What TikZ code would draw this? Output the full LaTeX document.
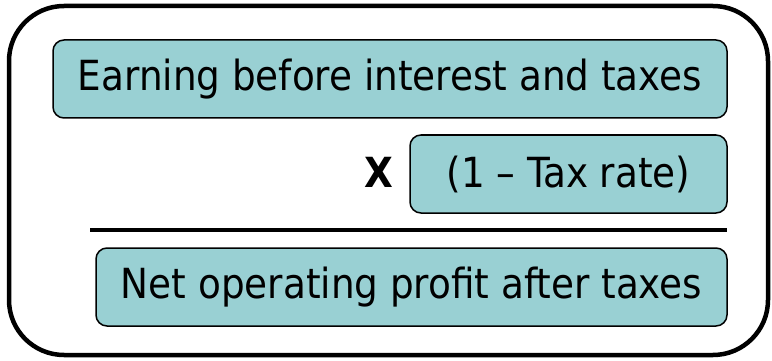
\documentclass[tikz,border=0pt]{standalone}
\usepackage{fontspec}
\setmainfont{DejaVu Sans Condensed}
\definecolor{boxfill}{RGB}{153,208,211}

\begin{document}
\begin{tikzpicture}[x=1pt,y=-1pt]
			\tikzstyle{term} = [draw,fill=boxfill,line width=1.5pt,rounded corners=11pt,minimum height=78pt,inner sep=0pt,font=\fontsize{41.5}{48}\selectfont]
			\useasboundingbox (0,0) rectangle (772,361);
			
			\draw[line width=4.5pt,rounded corners=55pt] (9,6) rectangle (768,355);
			
			\node[term,minimum width=674pt] (ebit) at (390,79) {Earning before interest and taxes};
			\node[term,minimum width=317pt] (tax) at (568.5,174) {(1 – Tax rate)};
			\node[font=\fontsize{41.5}{48}\selectfont\bfseries] (times) at (379,172) {X};
			\coordinate (barl) at (90,230);
			\coordinate (barr) at (727,230);
			\node[term,minimum width=631pt] (nopat) at (411.5,287) {Net operating profit after taxes};
			
			\draw[line width=4pt] (barl) -- (barr);
		\end{tikzpicture}
\end{document}
